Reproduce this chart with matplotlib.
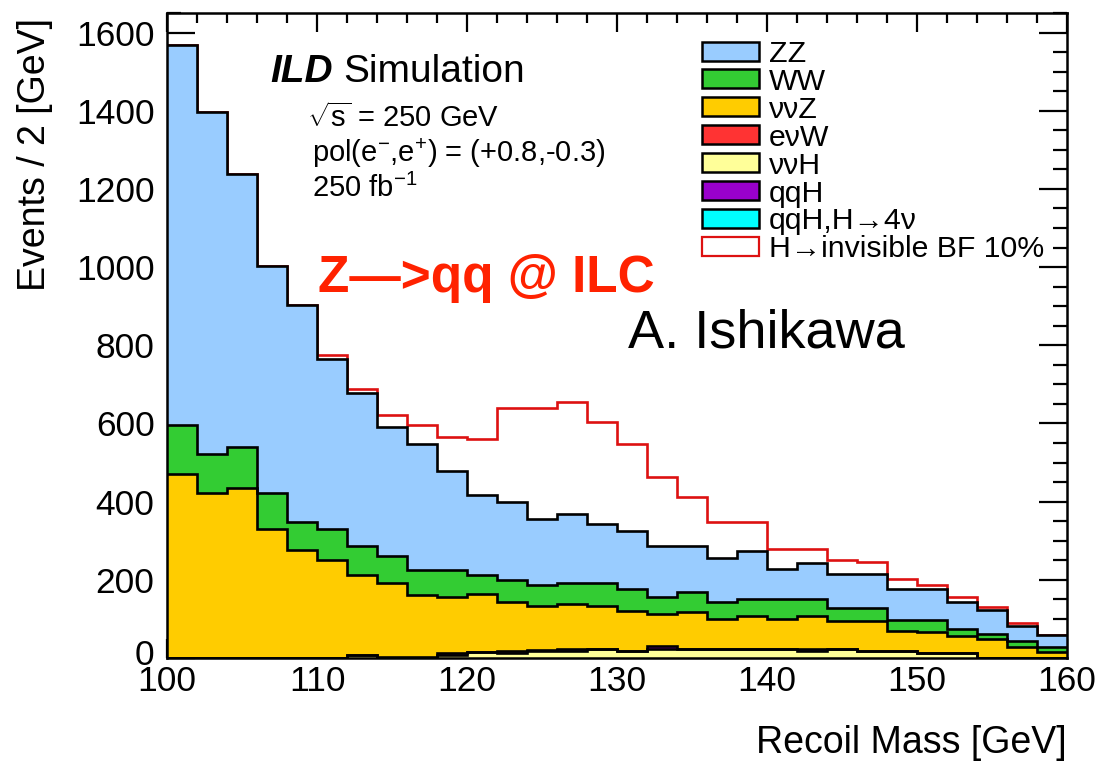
import numpy as np
import matplotlib
matplotlib.use("Agg")
import matplotlib.pyplot as plt
from matplotlib.patches import Rectangle
from matplotlib.ticker import MultipleLocator
from matplotlib.transforms import ScaledTranslation

plt.rcParams['font.family'] = ['Liberation Sans', 'DejaVu Sans']
plt.rcParams['mathtext.fontset'] = 'custom'
plt.rcParams['mathtext.rm'] = 'Liberation Sans'
plt.rcParams['mathtext.it'] = 'Liberation Sans:italic'
plt.rcParams['mathtext.bf'] = 'Liberation Sans:bold'

# ---- data: recoil mass histogram, 2 GeV bins from 100 to 160 GeV ----
edges = np.arange(100, 162, 2)

zz = [973, 873, 696, 581, 554, 435, 392, 328, 322, 254, 206, 200, 168, 176, 151,
      148, 129, 118, 111, 123, 76, 93, 89, 89, 79, 79, 71, 63, 39, 32]
ww = [126, 100, 107, 94, 72, 79, 74, 69, 64, 68, 49, 55, 54, 56, 60,
      56, 45, 50, 43, 44, 50, 44, 32, 32, 27, 30, 17, 13, 14, 11]
vvz = [470, 423, 434, 329, 276, 250, 204, 190, 158, 144, 148, 126, 112, 113, 109,
       101, 81, 95, 78, 84, 78, 84, 72, 78, 53, 54, 43, 48, 29, 16]
evw = [0] * 30
vvh = [0, 0, 0, 0, 0, 0, 8, 0, 0, 8, 15, 12, 18, 18, 22,
       17, 23, 23, 23, 23, 23, 17, 23, 17, 17, 13, 13, 0, 0, 0]
qqh = [0, 0, 0, 0, 0, 0, 0, 3, 3, 5, 0, 6, 3, 6, 2,
       2, 8, 0, 0, 0, 0, 6, 0, 0, 0, 0, 0, 0, 0, 0]
qqh4v = [0] * 30
sig = [0, 0, 0, 0, 0, 12, 11, 31, 49, 87, 143, 241, 285, 285, 259,
       223, 176, 125, 93, 74, 53, 36, 34, 29, 25, 11, 11, 7, 7, 0]

# stacking order (bottom -> top)
stack_vals = [qqh4v, vvh, qqh, evw, vvz, ww, zz]
stack_cols = ["#00FFFF", "#FFFF99", "#9900CC", "#FF3333", "#FFCC00", "#33CC33", "#99CCFF"]

legend_names = ["ZZ", "WW", "\u03bd\u03bdZ", "e\u03bdW", "\u03bd\u03bdH", "qqH",
                "qqH,H\u21924\u03bd", "H\u2192invisible BF 10%"]
legend_cols = ["#99CCFF", "#33CC33", "#FFCC00", "#FF3333", "#FFFF99", "#9900CC",
               "#00FFFF", None]

W, H = 1101, 768
fig = plt.figure(figsize=(W / 100, H / 100), dpi=100)
ax = fig.add_axes([167 / W, 110 / H, 900 / W, 645 / H])

lw = 1.9
total = np.zeros(30)
for v in stack_vals:
    total = total + np.array(v, float)

# signal (on top of total) drawn as red line
ax.stairs(total + np.array(sig, float), edges, baseline=None, color="#DD1111",
          lw=lw, zorder=1)

bottom = np.zeros(30)
for vals, col in zip(stack_vals, stack_cols):
    top = bottom + np.array(vals, float)
    ax.stairs(top, edges, baseline=bottom, fill=True, color=col, lw=0, zorder=2)
    bottom = top
bottom = np.zeros(30)
for vals in stack_vals:
    top = bottom + np.array(vals, float)
    if np.any(np.array(vals) > 0):
        ax.stairs(top, edges, baseline=None, color="black", lw=lw, zorder=3)
    bottom = top

ax.set_xlim(100, 160)
ax.set_ylim(0, 1650)
ax.xaxis.set_major_locator(MultipleLocator(10))
ax.xaxis.set_minor_locator(MultipleLocator(2))
ax.yaxis.set_major_locator(MultipleLocator(200))
ax.yaxis.set_minor_locator(MultipleLocator(50))
ax.tick_params(axis='both', which='both', direction='in', top=True, right=True,
               width=1.6, colors='black')
ax.tick_params(axis='y', which='major', length=20, pad=9, labelsize=25.5)
ax.tick_params(axis='y', which='minor', length=10)
ax.tick_params(axis='x', which='major', length=14, pad=5, labelsize=25.5)
ax.tick_params(axis='x', which='minor', length=7)
for s in ax.spines.values():
    s.set_linewidth(1.8)
    s.set_zorder(5)

# ROOT places the "0" label slightly above the axis
fig.canvas.draw()
for lab in ax.get_yticklabels():
    if lab.get_text() in ("0", "\u22120"):
        lab.set_transform(lab.get_transform() + ScaledTranslation(0, 6 / 100, fig.dpi_scale_trans))

ax.set_xlabel("Recoil Mass [GeV]", fontsize=27, loc='right')
ax.xaxis.set_label_coords(1.0, (658 - 725) / 645)
ax.set_ylabel("Events / 2 [GeV]", fontsize=27, loc='top')
ax.yaxis.set_label_coords((53 - 167) / 900, (658 - 18) / 645)

def fx(px):
    return (px - 167) / 900

def fy(py):
    return (658 - py) / 645

# annotations
ax.text(fx(270), fy(82), "ILD", transform=ax.transAxes, fontsize=28,
        fontweight='bold', fontstyle='italic', va='baseline')
ax.text(fx(343), fy(82), "Simulation", transform=ax.transAxes, fontsize=28,
        va='baseline')
ax.text(fx(307), fy(127), r"$\sqrt{\mathrm{s}}$ = 250 GeV", transform=ax.transAxes,
        fontsize=21, va='baseline')
ax.text(fx(312), fy(162), r"pol(e$^{-}$,e$^{+}$) = (+0.8,-0.3)", transform=ax.transAxes,
        fontsize=21, va='baseline')
ax.text(fx(312), fy(197), r"250 fb$^{-1}$", transform=ax.transAxes,
        fontsize=21, va='baseline')
ax.text(fx(318), fy(292), "Z\u2014>qq @ ILC", transform=ax.transAxes, fontsize=37,
        fontweight='bold', color="#FF2200", va='baseline')
ax.text(fx(628), fy(347), "A. Ishikawa", transform=ax.transAxes, fontsize=39,
        va='baseline')

# legend (manual, ROOT style)
bw, bh = (759 - 702) / 900, 19 / 645
for i, (name, col) in enumerate(zip(legend_names, legend_cols)):
    cy = 51 + 27.9 * i
    if col is None:
        r = Rectangle((fx(702), fy(cy) - bh / 2), bw, bh, transform=ax.transAxes,
                      facecolor='white', edgecolor="#DD1111", lw=1.6, zorder=6)
    else:
        r = Rectangle((fx(702), fy(cy) - bh / 2), bw, bh, transform=ax.transAxes,
                      facecolor=col, edgecolor='black', lw=1.8, zorder=6)
    ax.add_patch(r)
    ax.text(fx(769), fy(cy), name, transform=ax.transAxes, fontsize=21.8,
            va='center_baseline', ha='left', zorder=6)

fig.savefig("out.png", dpi=100)
